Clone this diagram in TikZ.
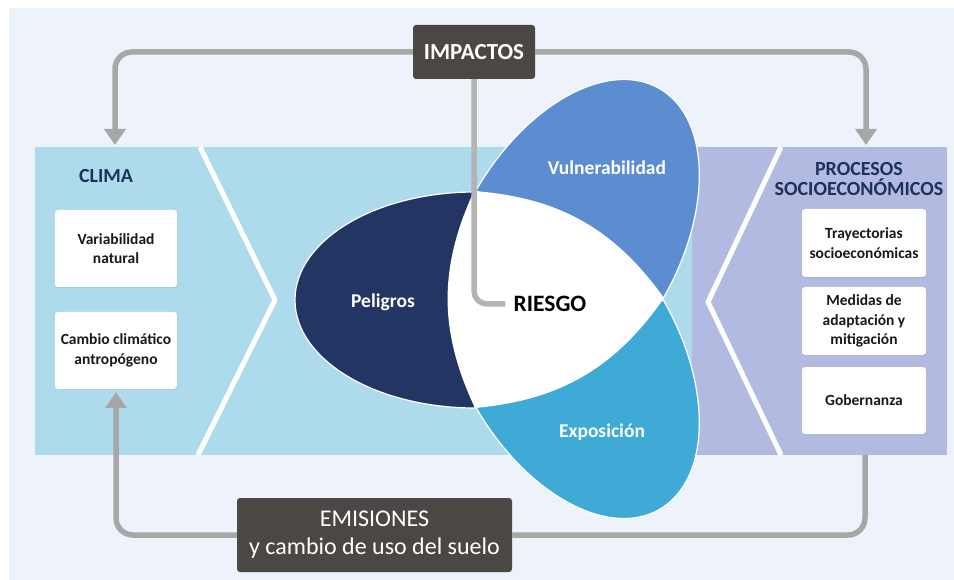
\documentclass[tikz,border=0pt]{standalone}
\usepackage{fontspec}
\setmainfont{Carlito}
\usepackage{tikz}
\usetikzlibrary{arrows.meta}
\usetikzlibrary{shadows}

\definecolor{fondo}{HTML}{EEF2FA}
\definecolor{bandaazul}{HTML}{AEDBEB}
\definecolor{bandamorada}{HTML}{B2BAE2}
\definecolor{cajaoscura}{HTML}{4B4745}
\definecolor{gris}{HTML}{A7A7A7}
\definecolor{marino}{HTML}{1E3158}
\definecolor{peligro}{HTML}{233563}
\definecolor{vulner}{HTML}{5B8DD0}
\definecolor{expo}{HTML}{40AAD6}

\begin{document}
\begin{tikzpicture}[x=1pt,y=-1pt,
    caja/.style={fill=white, rounded corners=3pt, align=center, text=black!90,
      font=\bfseries\fontsize{15.5}{19.5}\selectfont, inner sep=2pt,
      drop shadow={shadow xshift=0.8pt, shadow yshift=-1.2pt, opacity=0.18}},
    oscura/.style={fill=cajaoscura, rounded corners=3pt, text=white, align=center},
    flujo/.style={draw=gris, line width=5.5pt, rounded corners=17pt},
    punta/.style={-{Triangle[width=21pt,length=16pt]}},
    petalo/.style={draw=white, line width=1.2pt},
    titulo/.style={text=marino, font=\bfseries\fontsize{20}{20}\selectfont, align=center},
    etiqueta/.style={text=white, font=\bfseries\fontsize{19.5}{20}\selectfont}]
    \useasboundingbox (0,0) rectangle (954,580);
    % 背景
    \fill[white] (0,0) rectangle (954,580);
    \fill[fondo] (9,8) rectangle (954,580);

    % 箭头下面的线
    \coordinate (procIn) at (865,455);
    \coordinate (climaIn) at (115,145);
    \coordinate (procTop) at (866,145);

    \node[oscura, minimum width=275pt, minimum height=74pt,
      font=\fontsize{24}{28}\selectfont] (emisiones) at (374.5,535)
      {EMISIONES\\y cambio de uso del suelo};
    \draw[flujo] (emisiones.east) -| (procIn);

    % 两个色带
    \fill[bandaazul] (35,147) rectangle (692,455);
    \fill[bandamorada] (692,147) rectangle (947,455);
    \draw[white, line width=5pt, line join=round] (200,147) -- (275,300) -- (198,455);
    \draw[white, line width=5pt, line join=round] (781,147) -- (708,302) -- (781,455);

    % 三个花瓣
    \coordinate (vA) at (474,191);
    \coordinate (vB) at (475,408);
    \coordinate (vD) at (664,298);
    \filldraw[petalo, fill=peligro] (475,192)
      arc[start angle=90, end angle=270, x radius=180pt, y radius=108pt] -- cycle;
    \begin{scope}[rotate around={60:(569.5,244.5)}]
      \filldraw[petalo, fill=vulner] (569.5,352.5)
        arc[start angle=-90, end angle=90, x radius=180pt, y radius=108pt] -- cycle;
    \end{scope}
    \begin{scope}[rotate around={-60:(569.5,353.5)}]
      \filldraw[petalo, fill=expo] (569.5,461.5)
        arc[start angle=-90, end angle=90, x radius=180pt, y radius=108pt] -- cycle;
    \end{scope}
    \fill[white] (vA) to[bend right=25] (vB) to[bend right=25] (vD)
      to[bend right=25] (vA) -- cycle;

    \node[etiqueta] (peligros) at (383,302) {Peligros};
    \node[etiqueta] (vulnerabilidad) at (607,168) {Vulnerabilidad};
    \node[etiqueta] (exposicion) at (602,432) {Exposición};
    \node[font=\bfseries\fontsize{23.5}{24}\selectfont, inner sep=8pt] (riesgo) at (550,304) {RIESGO};

    % 左右两栏
    \node[titulo] (clima) at (106,176) {CLIMA};
    \node[caja, minimum width=122pt, minimum height=77pt] (variabilidad) at (116,248.5)
      {Variabilidad\\natural};
    \node[caja, minimum width=122pt, minimum height=77pt] (cambio) at (116,350.5)
      {Cambio climático\\antropógeno};

    \node[titulo] (procesos) at (859,179) {PROCESOS\\SOCIOECONÓMICOS};
    \node[caja, minimum width=124pt, minimum height=68pt] (trayectorias) at (864,243)
      {Trayectorias\\socioeconómicas};
    \node[caja, minimum width=124pt, minimum height=68pt] (medidas) at (864,321)
      {Medidas de\\adaptación y\\mitigación};
    \node[caja, minimum width=124pt, minimum height=67pt] (gobernanza) at (864,400.5)
      {Gobernanza};

    % 上方的框和箭头
    \node[oscura, minimum width=122pt, minimum height=54pt,
      font=\bfseries\fontsize{23}{24}\selectfont] (impactos) at (474,52) {IMPACTOS};
    \draw[flujo, punta] (impactos.west) -| (climaIn);
    \draw[flujo, punta] (impactos.east) -| (procTop);
    \draw[flujo, draw=gris!85, rounded corners=13pt] (impactos.south) |- (riesgo.west);
    \draw[flujo, punta, shorten >=3pt] (emisiones.west) -| (cambio.south);

\end{tikzpicture}
\end{document}
